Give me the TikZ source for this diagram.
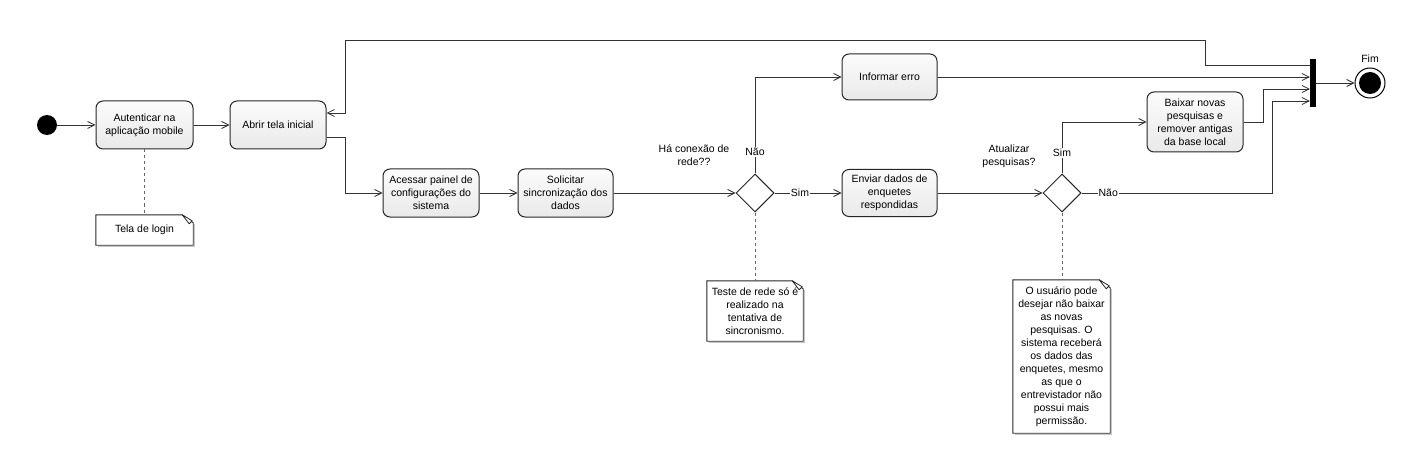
\documentclass[tikz,border=0pt]{standalone}
\usepackage{fontspec}
\setmainfont{Liberation Sans}
\usetikzlibrary{arrows.meta,shapes.geometric,calc}
\newcommand\notefold[1]{%
  \draw[line width=0.9pt, draw=black!85] (#1.north west) -- ([xshift=-11pt]#1.north east) -- ([yshift=-8pt]#1.north east) -- (#1.south east) -- (#1.south west) -- cycle;
  \draw[gray!45, line width=1.2pt] ([xshift=1.2pt,yshift=-9pt]#1.north east) -- ([xshift=1.2pt,yshift=-1.2pt]#1.south east) -- ([xshift=2pt,yshift=-1.2pt]#1.south west);
  \filldraw[fill=white, draw=black!85, line width=0.8pt, line join=round] ([xshift=-11pt]#1.north east) -- ([xshift=-1pt,yshift=-6pt]#1.north east) -- ([xshift=-4pt,yshift=-9pt]#1.north east) -- cycle;
}
\begin{document}
\begin{tikzpicture}[x=1pt,y=-1pt,
  every node/.style={font=\fontsize{10.5}{13}\selectfont},
  conn/.style={draw=black!80, line width=0.8pt},
  arr/.style={conn, -{Straight Barb[length=7pt,width=7pt,line width=0.8pt]}},
  act/.style={draw=black!85, line width=1pt, rounded corners=7pt, top color=gray!3, bottom color=gray!17, align=center, inner sep=2pt},
  dec/.style={diamond, draw=black!85, line width=1pt, fill=white, minimum width=38pt, minimum height=38pt, inner sep=0pt},
  notetext/.style={align=center, inner sep=2pt},
  lbl/.style={fill=white, inner sep=1pt},
  anno/.style={dashed, draw=black!60, line width=0.8pt}
]
\useasboundingbox (0,0) rectangle (1426,473);

% nodes
\node[circle, fill=black, minimum size=20pt, inner sep=0pt] (start) at (47,125) {};
\node[act, minimum width=97pt, minimum height=48pt] (aut) at (144.5,125) {Autenticar na\\aplicação mobile};
\node[act, minimum width=96pt, minimum height=48pt] (abrir) at (278,125) {Abrir tela inicial};
\node[act, minimum width=96pt, minimum height=48pt] (acessar) at (431,193) {Acessar painel de\\configurações do\\sistema};
\node[act, minimum width=95pt, minimum height=48pt] (solic) at (565.5,193) {Solicitar\\sincronização dos\\dados};
\node[dec] (d1) at (755,193) {};
\node[act, minimum width=95pt, minimum height=46pt] (inf) at (889.5,77) {Informar erro};
\node[act, minimum width=95pt, minimum height=47pt] (env) at (889.5,193) {Enviar dados de\\enquetes\\respondidas};
\node[dec] (d2) at (1062,193) {};
\node[act, minimum width=96pt, minimum height=60pt] (baixar) at (1195,122) {Baixar novas\\pesquisas e\\remover antigas\\da base local};
\node[fill=black, minimum width=6pt, minimum height=48pt, inner sep=0pt] (bar) at (1313,83) {};
\node[circle, draw=black, line width=1pt, minimum size=30pt, inner sep=0pt] (fim) at (1370,83) {};
\fill[black] (fim.center) circle[radius=11pt];
\node (fimlbl) at (1370,59) {Fim};
\node[align=center] (q1) at (694,155) {Há conexão de\\rede??};
\node[align=center] (q2) at (1009,156) {Atualizar\\pesquisas?};

% notes
\node[notetext, minimum width=97pt, minimum height=30pt] (n1) at (144.5,230) {Tela de login};
\node[notetext, minimum width=96pt, minimum height=60pt] (n2) at (755,311) {Teste de rede só é\\realizado na\\tentativa de\\sincronismo.};
\node[notetext, minimum width=97pt, minimum height=153pt] (n3) at (1061.5,356.5) {O usuário pode\\desejar não baixar\\as novas\\pesquisas. O\\sistema receberá\\os dados das\\enquetes, mesmo\\as que o\\entrevistador não\\possui mais\\permissão.};
\notefold{n1}
\notefold{n2}
\notefold{n3}

\coordinate (c1) at (1205,40);
\coordinate (c2) at (345,40);

% connectors
\draw[arr] (start) -- (aut);
\draw[arr] (aut) -- (abrir);
\draw[arr] ([yshift=-12pt]abrir.east) -- ++(19,0) |- (acessar);
\draw[arr] (acessar) -- (solic);
\draw[arr] (solic) -- (d1);
\draw[arr] (d1) -- node[lbl, pos=0.38]{Sim} (env);
\draw[arr] (d1.north) |- node[lbl, pos=0.11]{Não} (inf);
\draw[arr] (env) -- (d2);
\draw[arr] (d2.north) |- node[lbl, pos=0.2]{Sim} (baixar);
\draw[arr] (d2.east) -- node[lbl, pos=0.14]{Não} ++(191,0) |- ([yshift=-18pt]bar.west);
\draw[arr] (inf) -- (inf -| bar.west);
\draw[arr] (baixar.east) -- ++(20,0) |- ([yshift=-6pt]bar.west);
\draw[arr] ([yshift=18pt]bar.west) -| (c1) -- (c2) |- ([yshift=12pt]abrir.east);
\draw[arr] (bar) -- (fim);
\draw[anno] (aut.south) -- (aut.south |- n1.north);
\draw[anno] (d1.south) -- (d1.south |- n2.north);
\draw[anno] (d2.south) -- (d2.south |- n3.north);
\end{tikzpicture}
\end{document}
